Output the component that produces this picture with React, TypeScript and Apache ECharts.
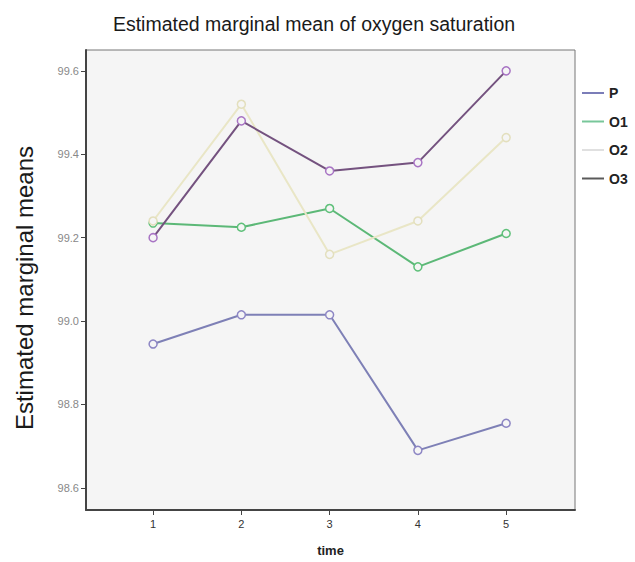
import React, { useEffect, useRef } from "react";
import * as echarts from "echarts";

const times = [1, 2, 3, 4, 5];
const seriesNames = ["P", "O1", "O2", "O3"];
const pValues = [98.945, 99.015, 99.015, 98.69, 98.755];
const o1Values = [99.235, 99.225, 99.27, 99.13, 99.21];
const o2Values = [99.24, 99.52, 99.16, 99.24, 99.44];
const o3Values = [99.2, 99.48, 99.36, 99.38, 99.6];
const yTicks = [98.6, 98.8, 99.0, 99.2, 99.4, 99.6];

const lineColors = ["#7e80b6", "#5cb877", "#e9e6c6", "#74527f"];
const markerColors = ["#8d86c4", "#5fc07a", "#e3dfbd", "#a874c4"];
const legendColors = ["#7b7db8", "#78c79a", "#e0e0e0", "#5a5a5a"];

export default function App() {
  const ref = useRef<HTMLDivElement>(null);
  useEffect(() => {
    if (!ref.current) return;
    const chart = echarts.init(ref.current, undefined, { renderer: "svg" });
    const all = [pValues, o1Values, o2Values, o3Values];
    chart.setOption({
      animation: false,
      backgroundColor: "#ffffff",
      textStyle: { fontFamily: "Liberation Sans, Arial, sans-serif" },
      title: {
        text: "Estimated marginal mean of oxygen saturation",
        left: 309,
        textAlign: "center",
        top: 9,
        textStyle: { fontSize: 19.5, fontWeight: "normal", color: "#1a1a1a" },
      },
      legend: {
        orient: "vertical",
        left: 577,
        top: 81,
        itemGap: 14.5,
        itemWidth: 22,
        itemHeight: 2,
        icon: "rect",
        data: seriesNames.map((n, i) => ({
          name: n,
          itemStyle: { color: legendColors[i], borderColor: legendColors[i], borderWidth: 0 },
        })),
        textStyle: { fontSize: 14, fontWeight: "bold", color: "#222" },
      },
      graphic: [
        {
          type: "text",
          x: 24,
          y: 288,
          rotation: Math.PI / 2,
          style: {
            text: "Estimated marginal means",
            fontSize: 24,
            fontFamily: "Liberation Sans, Arial, sans-serif",
            fill: "#1a1a1a",
            align: "center",
            verticalAlign: "middle",
          },
        },
      ],
      grid: {
        left: 86,
        top: 50,
        right: 60,
        bottom: 52,
        show: true,
        backgroundColor: "#f5f5f5",
        borderColor: "#777",
        borderWidth: 1,
      },
      xAxis: {
        type: "value",
        min: 0.24,
        max: 5.78,
        name: "time",
        nameLocation: "middle",
        nameGap: 34,
        nameTextStyle: { fontSize: 13, fontWeight: "bold", color: "#222" },
        splitLine: { show: false },
        axisLine: { lineStyle: { color: "#444", width: 2 } },
        axisTick: { customValues: times, length: 5, lineStyle: { color: "#444" } },
        axisLabel: { customValues: times, fontSize: 11, color: "#333", margin: 8 },
      },
      yAxis: {
        type: "value",
        min: 98.547,
        max: 99.65,
        splitLine: { show: false },
        axisLine: { show: true, lineStyle: { color: "#444", width: 2 } },
        axisTick: { show: true, customValues: yTicks, length: 5, lineStyle: { color: "#444" } },
        axisLabel: {
          customValues: yTicks,
          fontSize: 11,
          color: "#888",
          margin: 7,
          formatter: (v: number) => v.toFixed(1),
        },
      },
      series: seriesNames.map((name, i) => ({
        name,
        type: "line",
        data: times.map((t, j) => [t, all[i][j]]),
        symbol: "circle",
        symbolSize: 8,
        lineStyle: { color: lineColors[i], width: 2 },
        itemStyle: { color: "#f5f5f5", borderColor: markerColors[i], borderWidth: 1.5 },
        color: lineColors[i],
        z: i === 3 ? 5 : 3,
      })),
    });
    return () => chart.dispose();
  }, []);
  return (
    <div
      ref={ref}
      style={{ position: "fixed", left: 0, top: 0, width: 635, height: 562 }}
    />
  );
}
